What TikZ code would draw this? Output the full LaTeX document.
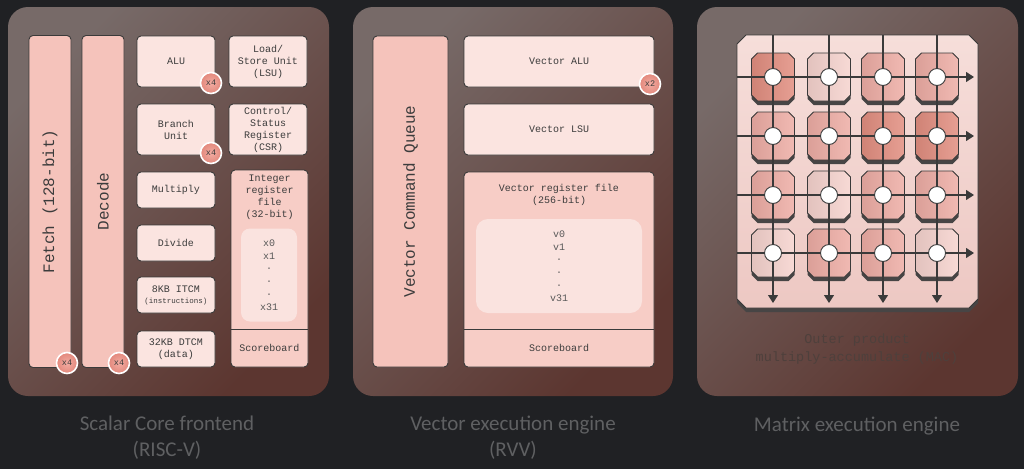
\documentclass[tikz,border=0pt]{standalone}
\usepackage{fontspec}
\setmainfont{Liberation Mono}
\newfontfamily\lblfont{Carlito}
\usetikzlibrary{arrows.meta,calc}
\definecolor{bg}{HTML}{202124}
\definecolor{panA}{HTML}{776A68}
\definecolor{panB}{HTML}{5C3630}
\definecolor{edge}{HTML}{3A3A3A}
\definecolor{ink}{HTML}{3C3C3C}
\definecolor{salmon}{HTML}{F5C3BB}
\definecolor{lite}{HTML}{FBE4E0}
\definecolor{midp}{HTML}{F7CDC6}
\definecolor{innerp}{HTML}{FAE3DF}
\definecolor{badgeA}{HTML}{F2ACA2}
\definecolor{badgeB}{HTML}{E3887C}
\definecolor{lblc}{HTML}{5F6062}
\definecolor{chipA}{HTML}{F6DEDA}
\definecolor{chipB}{HTML}{EDC8C3}
\definecolor{cdark}{HTML}{E28E80}
\definecolor{cmed}{HTML}{EEADA5}
\definecolor{clight}{HTML}{F6D3CE}
\definecolor{shad}{HTML}{474545}
\definecolor{faint}{HTML}{4E403C}
\tikzset{
  panel/.style={rounded corners=20pt, left color=panA, right color=panB, shading angle=45},
  blk/.style={draw=edge, line width=0.9pt, rounded corners=4pt, fill=lite, inner sep=0pt,
    font=\fontsize{10}{12}\selectfont, text=ink, align=center},
  tall/.style={blk, fill=salmon, font=\fontsize{16}{18}\selectfont, rotate=90},
  midbox/.style={blk, fill=midp},
  innerbox/.style={fill=innerp, rounded corners=9pt, inner sep=0pt, align=center,
    font=\fontsize{10}{12.8}\selectfont, text=ink!85},
  txt/.style={font=\fontsize{10}{12}\selectfont, text=ink, align=center, inner sep=0pt},
  badge/.style={circle, minimum size=21pt, inner sep=0pt, draw=white, line width=1.6pt,
    inner color=badgeA, outer color=badgeB, font=\fontsize{8.5}{10}\selectfont, text=ink},
  lbl/.style={font=\lblfont\fontsize{21}{26}\selectfont, text=lblc, align=center},
  gridarr/.style={draw=edge, line width=1.1pt, -{Triangle[length=8pt,width=10pt]}},
  gridln/.style={draw=edge, line width=1.1pt},
}
\newcommand\maccell[3]{%
  \begin{scope}[shift={(#1,#2)}]
    \fill[shad] (-15.5,-20) -- (15.5,-20) -- (21.5,-14) -- (21.5,22) -- (15.5,28) -- (-15.5,28) -- (-21.5,22) -- (-21.5,-14) -- cycle;
    \filldraw[draw=edge, line width=0.9pt, left color=#3!92!black, right color=#3!85!white]
      (-15.5,-24) -- (15.5,-24) -- (21.5,-18) -- (21.5,18) -- (15.5,24) -- (-15.5,24) -- (-21.5,18) -- (-21.5,-18) -- cycle;
  \end{scope}}
\begin{document}
\begin{tikzpicture}[x=1pt,y=-1pt]
\useasboundingbox (0,0) rectangle (1024,469);
\fill[bg] (0,0) rectangle (1024,469);

% panels
\shade[panel] (8,7) rectangle (329,396);
\shade[panel] (353,7) rectangle (673,396);
\shade[panel] (697,7) rectangle (1018,396);

% ---------- Scalar core ----------
\node[tall, minimum width=332pt, minimum height=42pt] (fetch) at (50,201.5) {Fetch (128-bit)};
\node[tall, minimum width=332pt, minimum height=42pt] (decode) at (103,201.5) {Decode};
\node[blk, minimum width=78pt, minimum height=51pt] (alu) at (176,61.5) {ALU};
\node[blk, minimum width=78pt, minimum height=51pt] (lsu) at (268,61.5) {Load/\\Store Unit\\(LSU)};
\node[blk, minimum width=78pt, minimum height=51pt] (branch) at (176,129.5) {Branch\\Unit};
\node[blk, minimum width=78pt, minimum height=51pt] (csr) at (268,129.5) {Control/\\Status\\Register\\(CSR)};
\node[blk, minimum width=78pt, minimum height=36pt] (mul) at (176,190) {Multiply};
\node[blk, minimum width=78pt, minimum height=36pt] (div) at (176,243) {Divide};
\node[blk, minimum width=78pt, minimum height=36pt] (itcm) at (176,295) {8KB ITCM\\[-1pt]{\fontsize{7.5}{9}\selectfont(instructions)}};
\node[blk, minimum width=78pt, minimum height=36pt] (dtcm) at (176,349) {32KB DTCM\\(data)};
\node[midbox, minimum width=77pt, minimum height=197pt] (irf) at (269.5,268.5) {};
\node[txt, anchor=north] (irft) at (269.5,175) {Integer\\register\\file\\(32-bit)};
\node[innerbox, minimum width=56pt, minimum height=93pt] (xreg) at (269,275) {x0\\x1\\·\\·\\·\\x31};
\coordinate (irfdiv) at (269.5,329);
\draw[edge, line width=0.9pt] (irf.west |- irfdiv) -- (irf.east |- irfdiv);
\node[txt] (sb1) at (269.5,348) {Scoreboard};
\node[badge] (bf) at (67,363) {x4};
\node[badge] (bd) at (119,363) {x4};
\node[badge] (ba) at (211,83) {x4};
\node[badge] (bb) at (211,153) {x4};

% ---------- Vector engine ----------
\node[tall, minimum width=331pt, minimum height=75pt] (vcq) at (410.5,201.5) {Vector Command Queue};
\node[blk, minimum width=190pt, minimum height=51pt] (valu) at (559,61.5) {Vector ALU};
\node[blk, minimum width=190pt, minimum height=51pt] (vlsu) at (559,129.5) {Vector LSU};
\node[midbox, minimum width=190pt, minimum height=195pt] (vrf) at (559,269.5) {};
\node[txt, anchor=north] (vrft) at (559,184) {Vector register file\\(256-bit)};
\node[innerbox, minimum width=166pt, minimum height=94pt, rounded corners=12pt] (vreg) at (559,266) {v0\\v1\\·\\·\\·\\v31};
\coordinate (vrfdiv) at (559,329);
\draw[edge, line width=0.9pt] (vrf.west |- vrfdiv) -- (vrf.east |- vrfdiv);
\node[txt] (sb2) at (559,348) {Scoreboard};
\node[badge] (bv) at (650,84) {x2};

% ---------- Matrix engine ----------
\fill[shad] (746,39) -- (969,39) -- (978,48) -- (978,303) -- (969,312) -- (746,312) -- (737,303) -- (737,48) -- cycle;
\filldraw[draw=edge, line width=0.9pt, top color=chipA, bottom color=chipB]
  (746,35) -- (969,35) -- (978,44) -- (978,299) -- (969,308) -- (746,308) -- (737,299) -- (737,44) -- cycle;
\maccell{773}{77}{cdark}  \maccell{829}{77}{clight} \maccell{883}{77}{cmed}   \maccell{937}{77}{cmed}
\maccell{773}{136}{cmed}  \maccell{829}{136}{cmed}  \maccell{883}{136}{cdark} \maccell{937}{136}{cdark}
\maccell{773}{195}{cmed}  \maccell{829}{195}{clight} \maccell{883}{195}{cmed}  \maccell{937}{195}{cmed}
\maccell{773}{253}{clight} \maccell{829}{253}{cmed}  \maccell{883}{253}{cmed}  \maccell{937}{253}{clight}
\foreach \c [count=\i] in {773,829,883,937}{
  \coordinate (vt\i) at (\c,35);
  \coordinate (vb\i) at (\c,303);
  \draw[gridarr] (vt\i) -- (vb\i);
}
\foreach \r [count=\j] in {77,136,195,253}{
  \coordinate (hl\j) at (737,\r);
  \coordinate (hr\j) at (974,\r);
  \draw[gridarr] (hl\j) -- (hr\j);
}
\foreach \c [count=\i] in {773,829,883,937}{
  \foreach \r [count=\j] in {77,136,195,253}{
    \node[circle, fill=white, draw=edge, line width=0.9pt, minimum size=17pt, inner sep=0pt] (pe\i\j) at (\c,\r) {};
  }
}
\node[txt, text=faint, font=\fontsize{13.5}{18}\selectfont] (mac) at (857,349) {Outer product\\multiply-accumulate (MAC)};

% ---------- labels ----------
\node[lbl] (l1) at (167,438) {Scalar Core frontend\\(RISC-V)};
\node[lbl] (l2) at (513,438) {Vector execution engine\\(RVV)};
\node[lbl] (l3) at (857,426) {Matrix execution engine};
\end{tikzpicture}
\end{document}
